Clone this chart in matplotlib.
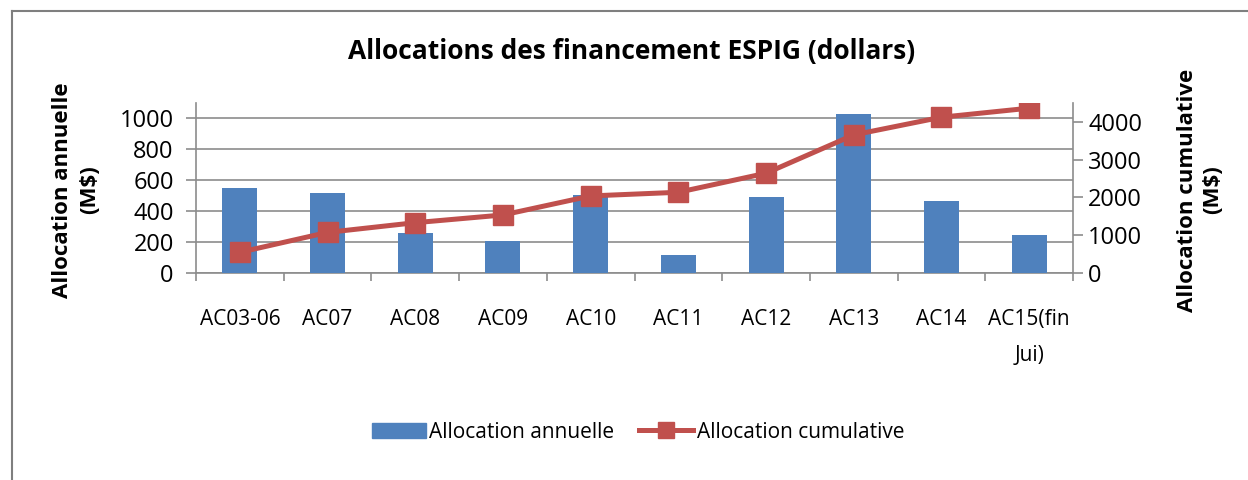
import matplotlib
matplotlib.use("Agg")
import matplotlib.pyplot as plt
from matplotlib.lines import Line2D
from matplotlib import font_manager
import numpy as np

categories = ["AC03-06", "AC07", "AC08", "AC09", "AC10", "AC11", "AC12", "AC13", "AC14", "AC15(fin\nJui)"]
annual = [552, 517, 258, 208, 506, 115, 491, 1032, 463, 245]
cumulative = [548, 1075, 1332, 1536, 2040, 2137, 2641, 3656, 4124, 4363]

title = "Allocations des financement ESPIG (dollars)"
left_label = "Allocation annuelle\n(M$)"
right_label = "Allocation cumulative\n(M$)"
left_ticks = [0, 200, 400, 600, 800, 1000]
right_ticks = [0, 1000, 2000, 3000, 4000]

BLUE = "#4F81BD"
RED = "#C0504D"
GRID = "#8C8C8C"
installed = {f.name for f in font_manager.fontManager.ttflist}
narrow = [f for f in ["DejaVu Sans Condensed", "Liberation Sans Narrow"] if f in installed] + ["Open Sans", "DejaVu Sans"]
font = ["Open Sans", "DejaVu Sans"]
nsize = 16 if narrow[0] != "Open Sans" else 15

fig = plt.figure(figsize=(12.48, 4.8), dpi=100)
ax = fig.add_axes([196/1248, 1-273/480, (1073-196)/1248, (273-103)/480])
ax2 = ax.twinx()

x = np.arange(len(categories))
ax.bar(x, annual, width=0.4, color=BLUE, zorder=3)
ax.set_ylim(0, 1100)
ax.set_xlim(-0.5, len(categories)-0.5)
ax.set_yticks(left_ticks)
ax.yaxis.grid(True, color=GRID, linewidth=1.2, zorder=0)
ax.set_axisbelow(True)

ax2.plot(x, cumulative, color=RED, linewidth=3.6, marker="s", markersize=15,
         markerfacecolor=RED, markeredgecolor=RED, zorder=4)
ax2.set_ylim(0, 4500)
ax2.set_yticks(right_ticks)

for a in (ax, ax2):
    a.spines["top"].set_visible(False)
    for s in ("left", "right", "bottom"):
        a.spines[s].set_color(GRID)
        a.spines[s].set_linewidth(1.2)
ax.spines["right"].set_visible(False)
ax2.spines["left"].set_visible(False)
ax2.spines["bottom"].set_visible(False)

ax.set_xticks(np.arange(-0.5, len(categories), 1.0))
ax.set_xticklabels([])
ax.set_xticks(x, minor=True)
ax.set_xticklabels(categories, minor=True, fontfamily=narrow, fontsize=nsize,
                   linespacing=1.9, va="top")
ax.tick_params(axis="x", which="major", length=6, color=GRID, width=1.2)
ax.tick_params(axis="x", which="minor", length=0, pad=26)
ax.tick_params(axis="y", length=7, color=GRID, width=1.2, labelsize=17, pad=9)
ax2.tick_params(axis="y", length=7, color=GRID, width=1.2, labelsize=17, pad=4)
for lab in ax.get_yticklabels() + ax2.get_yticklabels():
    lab.set_fontfamily(font)

fig.text(632/1248, 1-52/480, title, ha="center", va="center", fontsize=19,
         fontweight="bold", fontfamily=font)
fig.text(76/1248, 1-190/480, left_label, ha="center", va="center", rotation=90,
         fontsize=16, fontweight="bold", fontfamily=font, linespacing=1.35)
fig.text(1200/1248, 1-190/480, right_label, ha="center", va="center", rotation=90,
         fontsize=16, fontweight="bold", fontfamily=font, linespacing=1.3)

handles = [plt.Rectangle((0, 0), 1, 1, color=BLUE),
           Line2D([0], [0], color=RED, linewidth=3.6, marker="s", markersize=11)]
fig.legend(handles, ["Allocation annuelle", "Allocation cumulative"],
           loc="center", bbox_to_anchor=(638/1248, 1-432/480), ncol=2,
           frameon=False, prop={"family": narrow, "size": nsize},
           handlelength=2.6, handletextpad=0.15, columnspacing=1.2)

fig.add_artist(Line2D([12/1248, 12/1248], [0, 1-11/480], color="#7F7F7F", linewidth=1.5))
fig.add_artist(Line2D([12/1248, 1], [1-11/480, 1-11/480], color="#7F7F7F", linewidth=1.5))

fig.savefig("out.png", dpi=100)
